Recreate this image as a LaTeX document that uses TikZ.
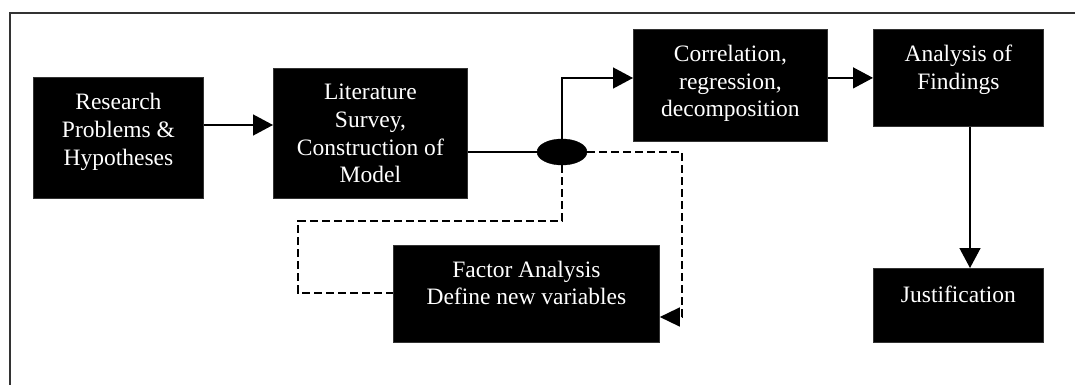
\documentclass[tikz,border=0pt]{standalone}
\usepackage{fontspec}
\setmainfont{Liberation Serif}
\usetikzlibrary{arrows.meta,shapes.geometric}
\begin{document}
\begin{tikzpicture}[x=1pt,y=-1pt,
  stepbox/.style={fill=black, draw=black!80, line width=0.8pt, inner sep=0pt, anchor=north west},
  boxtext/.style={anchor=base, inner sep=0pt, text=white, font=\fontsize{23.5}{27.5}\selectfont},
  flow/.style={line width=1.4pt, -{Triangle[length=20pt,width=21pt]}},
  plain/.style={line width=1.4pt},
  loop/.style={line width=1.4pt, dash pattern=on 8pt off 4pt},
  looparrow/.style={loop, -{Triangle[length=20pt,width=19pt]}}
]
\useasboundingbox (0,0) rectangle (1075,385);
% outer frame (open to the right and bottom)
\draw[line width=1.6pt, black!80] (10,385) -- (10,13) -- (1075,13);

% process boxes
\node[stepbox, minimum width=170pt, minimum height=121pt] (res)  at (33,77)  {};
\node[stepbox, minimum width=194pt, minimum height=130pt] (lit)  at (273,68) {};
\node[stepbox, minimum width=194pt, minimum height=112pt] (corr) at (633,29) {};
\node[stepbox, minimum width=170pt, minimum height=97pt]  (find) at (873,29) {};
\node[stepbox, minimum width=170pt, minimum height=74pt]  (just) at (873,268) {};
\node[stepbox, minimum width=266pt, minimum height=97pt]  (fact) at (393,245) {};

% box texts
\node[boxtext, yshift=-33pt] at (res.north)  {\parbox[t]{160pt}{\centering Research\\Problems \&\\Hypotheses}};
\node[boxtext, yshift=-32pt] at (lit.north)  {\parbox[t]{190pt}{\centering Literature\\Survey,\\Construction of\\Model}};
\node[boxtext, yshift=-33pt] at (corr.north) {\parbox[t]{190pt}{\centering Correlation,\\regression,\\decomposition}};
\node[boxtext, yshift=-33pt] at (find.north) {\parbox[t]{165pt}{\centering Analysis of\\Findings}};
\node[boxtext, yshift=-34pt] at (just.north) {\parbox[t]{165pt}{\centering Justification}};
\node[boxtext, yshift=-32pt] at (fact.north) {\parbox[t]{260pt}{\centering Factor Analysis\\Define new variables}};

% decision point
\node[ellipse, fill=black, draw=black, inner sep=0pt, minimum width=50pt, minimum height=26pt] (j) at (562,152) {};

% helper coordinates for connector routes
\coordinate (a1) at (0,125);
\coordinate (a2) at (0,78);
\coordinate (a3) at (970,0);
\coordinate (r)  at (682,317);
\coordinate (lt) at (298,221);
\coordinate (lb) at (298,293);

% solid connectors
\draw[flow] (res.east |- a1) -- (lit.west |- a1);
\draw[plain] (lit.east |- j) -- (j.west);
\draw[flow] (j.north) |- (corr.west |- a2);
\draw[flow] (corr.east |- find.west) -- (find.west);
\draw[flow] (find.south -| a3) -- (just.north -| a3);

% dashed feedback routes
\draw[looparrow] (j.east) -| (r) -- (fact.east |- r);
\draw[loop] (j.south) |- (lt) -- (lb) -- (fact.west |- lb);
\end{tikzpicture}
\end{document}
